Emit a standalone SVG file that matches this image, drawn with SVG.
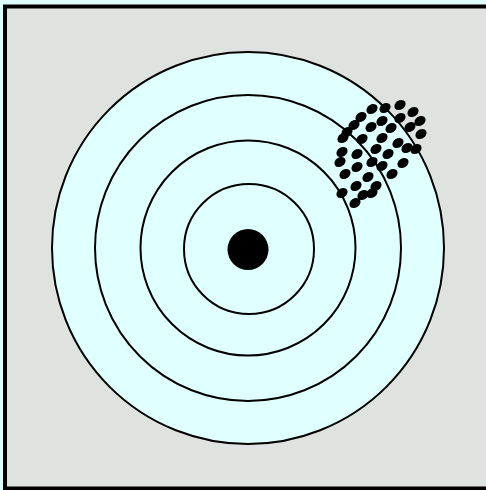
<svg xmlns="http://www.w3.org/2000/svg" width="486" height="490" viewBox="0 0 486 490">
<style>
.ring{fill:none;stroke:#000;stroke-width:2}
.hit ellipse{fill:#000;stroke:none}
.edge{stroke:#000;stroke-width:4;fill:none}
</style>
<rect x="0" y="0" width="486" height="490" fill="#e0ffff"/>
<rect x="5" y="6.5" width="481" height="482" fill="#dfe3e0"/>
<path class="edge" d="M5,490 V6.5 H486 M5,488.5 H486"/>
<g id="target">
<circle cx="248" cy="248" r="196" fill="#e0ffff"/>
<circle cx="248" cy="248" r="196" class="ring"/>
<circle cx="248" cy="248" r="153" class="ring"/>
<circle cx="248" cy="248" r="107.5" class="ring"/>
<circle cx="249" cy="249" r="65" class="ring"/>
<circle cx="248" cy="249.5" r="20.5" fill="#000"/>
</g>
<g id="hits" class="hit">
<ellipse cx="372" cy="109" rx="6" ry="4.6" transform="rotate(-35 372 109)"/>
<ellipse cx="385" cy="108" rx="6" ry="4.6" transform="rotate(-35 385 108)"/>
<ellipse cx="400" cy="105" rx="6" ry="4.6" transform="rotate(-35 400 105)"/>
<ellipse cx="413" cy="112" rx="6" ry="4.6" transform="rotate(-35 413 112)"/>
<ellipse cx="420" cy="121" rx="6" ry="4.6" transform="rotate(-35 420 121)"/>
<ellipse cx="361" cy="117" rx="6" ry="4.6" transform="rotate(-35 361 117)"/>
<ellipse cx="382" cy="121" rx="6" ry="4.6" transform="rotate(-35 382 121)"/>
<ellipse cx="400" cy="118" rx="6" ry="4.6" transform="rotate(-35 400 118)"/>
<ellipse cx="371" cy="127" rx="6" ry="4.6" transform="rotate(-35 371 127)"/>
<ellipse cx="347" cy="132" rx="6" ry="4.6" transform="rotate(-35 347 132)"/>
<ellipse cx="354" cy="125" rx="6" ry="4.6" transform="rotate(-35 354 125)"/>
<ellipse cx="410" cy="127" rx="6" ry="4.6" transform="rotate(-35 410 127)"/>
<ellipse cx="391" cy="128" rx="6" ry="4.6" transform="rotate(-35 391 128)"/>
<ellipse cx="421" cy="134" rx="6" ry="4.6" transform="rotate(-35 421 134)"/>
<ellipse cx="343" cy="138" rx="6" ry="4.6" transform="rotate(-35 343 138)"/>
<ellipse cx="362" cy="139" rx="6" ry="4.6" transform="rotate(-35 362 139)"/>
<ellipse cx="382" cy="138" rx="6" ry="4.6" transform="rotate(-35 382 138)"/>
<ellipse cx="398" cy="143" rx="6" ry="4.6" transform="rotate(-35 398 143)"/>
<ellipse cx="407" cy="148" rx="6" ry="4.6" transform="rotate(-35 407 148)"/>
<ellipse cx="416" cy="149" rx="6" ry="4.6" transform="rotate(-35 416 149)"/>
<ellipse cx="376" cy="149" rx="6" ry="4.6" transform="rotate(-35 376 149)"/>
<ellipse cx="357" cy="154" rx="6" ry="4.6" transform="rotate(-35 357 154)"/>
<ellipse cx="342" cy="152" rx="6" ry="4.6" transform="rotate(-35 342 152)"/>
<ellipse cx="340" cy="162" rx="6" ry="4.6" transform="rotate(-35 340 162)"/>
<ellipse cx="388" cy="154" rx="6" ry="4.6" transform="rotate(-35 388 154)"/>
<ellipse cx="403" cy="163" rx="6" ry="4.6" transform="rotate(-35 403 163)"/>
<ellipse cx="372" cy="162" rx="6" ry="4.6" transform="rotate(-35 372 162)"/>
<ellipse cx="357" cy="167" rx="6" ry="4.6" transform="rotate(-35 357 167)"/>
<ellipse cx="345" cy="174" rx="6" ry="4.6" transform="rotate(-35 345 174)"/>
<ellipse cx="382" cy="166" rx="6" ry="4.6" transform="rotate(-35 382 166)"/>
<ellipse cx="392" cy="174" rx="6" ry="4.6" transform="rotate(-35 392 174)"/>
<ellipse cx="368" cy="177" rx="6" ry="4.6" transform="rotate(-35 368 177)"/>
<ellipse cx="356" cy="186" rx="6" ry="4.6" transform="rotate(-35 356 186)"/>
<ellipse cx="376" cy="186" rx="6" ry="4.6" transform="rotate(-35 376 186)"/>
<ellipse cx="372" cy="193" rx="6" ry="4.6" transform="rotate(-35 372 193)"/>
<ellipse cx="342" cy="193" rx="6" ry="4.6" transform="rotate(-35 342 193)"/>
<ellipse cx="363" cy="195" rx="6" ry="4.6" transform="rotate(-35 363 195)"/>
<ellipse cx="355" cy="203" rx="6" ry="4.6" transform="rotate(-35 355 203)"/>
</g>
</svg>
